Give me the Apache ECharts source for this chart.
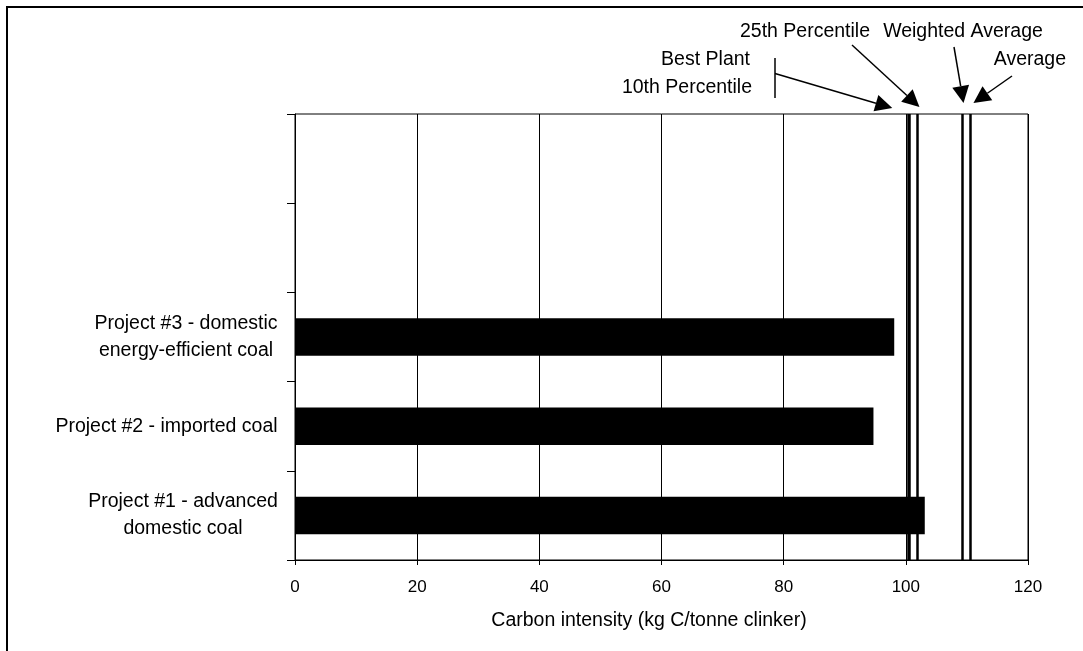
<!DOCTYPE html>
<html>
<head>
<meta charset="utf-8">
<script src="https://cdn.jsdelivr.net/npm/echarts@6/dist/echarts.min.js"></script>
<style>
html,body{margin:0;padding:0;background:#fff;}
#chart{width:1083px;height:651px;}
</style>
</head>
<body>
<div id="chart"></div>
<script>
// ---- data ----
var categories = ['Project #1 - advanced\ndomestic coal', 'Project #2 - imported coal', 'Project #3 - domestic\nenergy-efficient coal', ' ', '  '];
var intensity = [103.1, 94.7, 98.1, null, null];
var refNames = ['Best Plant', '10th Percentile', '25th Percentile', 'Weighted Average', 'Average'];
var refValues = [100.4, 100.6, 101.9, 109.2, 110.5];
var xTicks = [0, 20, 40, 60, 80, 100, 120];
var xTitle = 'Carbon intensity (kg C/tonne clinker)';

var FONT = '"Liberation Sans", Arial, sans-serif';
var LABEL_SIZE = 19.5;

// measure label lines so multi-line labels are centred on each other
var cv = document.createElement('canvas').getContext('2d');
cv.font = LABEL_SIZE + 'px "Liberation Sans"';
var rich = {};
categories.forEach(function (c, i) {
  var w = 0;
  c.split('\n').forEach(function (l) { w = Math.max(w, cv.measureText(l).width); });
  rich['c' + i] = {width: Math.ceil(w), align: 'center', fontSize: LABEL_SIZE, fontFamily: FONT, color: '#000', lineHeight: 26.7};
});

var chart = echarts.init(document.getElementById('chart'), null, {renderer: 'canvas'});

var option = {
  backgroundColor: '#fff',
  animation: false,
  grid: {left: 295, right: 55, top: 114, bottom: 91, show: true, borderColor: '#000', borderWidth: 1, backgroundColor: 'transparent'},
  xAxis: {
    type: 'value', min: xTicks[0], max: xTicks[xTicks.length - 1], interval: 20,
    axisLine: {show: true, lineStyle: {color: '#000', width: 1}},
    axisTick: {show: true, length: 5, lineStyle: {color: '#000'}},
    axisLabel: {color: '#000', fontSize: 17, fontFamily: FONT, margin: 19},
    splitLine: {show: true, lineStyle: {color: '#000', width: 1}},
    name: xTitle, nameLocation: 'middle', nameGap: 51,
    nameTextStyle: {color: '#000', fontSize: LABEL_SIZE, fontFamily: FONT, padding: [0, 25, 0, 0]}
  },
  yAxis: {
    type: 'category', data: categories,
    axisLine: {show: true, lineStyle: {color: '#000', width: 1}},
    axisTick: {show: true, length: 8, lineStyle: {color: '#000'}},
    axisLabel: {
      margin: 17, align: 'right', rich: rich,
      formatter: function (v, idx) {
        if (!v.trim()) return '';
        return v.split('\n').map(function (l) { return '{c' + idx + '|' + l + '}'; }).join('\n');
      }
    },
    splitLine: {show: false}
  },
  series: [{
    type: 'bar', data: intensity, barWidth: '42%',
    itemStyle: {color: '#000'},
    silent: true,
    markLine: {
      silent: true, symbol: 'none', animation: false,
      label: {show: false},
      lineStyle: {color: '#000', width: 2.5, type: 'solid'},
      emphasis: {disabled: true},
      data: refValues.map(function (v) { return {xAxis: v}; })
    }
  }]
};
chart.setOption(option);

// ---- annotations ----
function px(v) { return chart.convertToPixel({xAxisIndex: 0}, v); }
function arrow(x1, y1, x2, y2) {
  var dx = x2 - x1, dy = y2 - y1, len = Math.sqrt(dx * dx + dy * dy);
  var ux = dx / len, uy = dy / len, L = 17, W = 8.5;
  var bx = x2 - ux * L, by = y2 - uy * L, nx = -uy, ny = ux;
  return [
    {type: 'line', shape: {x1: x1, y1: y1, x2: bx, y2: by}, style: {stroke: '#000', lineWidth: 1.5}, silent: true},
    {type: 'polygon', shape: {points: [[x2, y2], [bx + nx * W, by + ny * W], [bx - nx * W, by - ny * W]]}, style: {fill: '#000'}, silent: true}
  ];
}
function txt(s, x, y, align) {
  return {type: 'text', x: x, y: y, silent: true,
    style: {text: s, fill: '#000', font: LABEL_SIZE + 'px ' + FONT, textAlign: align, textVerticalAlign: 'middle'}};
}
var g = [];
g.push({type: 'rect', shape: {x: 7, y: 7, width: 1300, height: 900}, style: {fill: 'none', stroke: '#000', lineWidth: 2}, silent: true});
g.push(txt(refNames[2], 805, 31.5, 'center'));
g.push(txt(refNames[3], 963, 31.5, 'center'));
g.push(txt(refNames[0], 750, 60, 'right'));
g.push(txt(refNames[1], 752, 88, 'right'));
g.push(txt(refNames[4], 1066, 60, 'right'));
// bracket for Best Plant / 10th Percentile
g.push({type: 'line', shape: {x1: 775, y1: 58, x2: 775, y2: 98}, style: {stroke: '#000', lineWidth: 1.5}, silent: true});
var tipY = 114 - 7;
g = g.concat(arrow(775, 73.5, px(refValues[0]) - 16, 108));
g = g.concat(arrow(852, 45, px(refValues[2]) + 2, tipY));
g = g.concat(arrow(954, 47, px(refValues[3]) + 1.5, 103));
g = g.concat(arrow(1012, 76, px(refValues[4]) + 3.5, 103));
chart.setOption({graphic: g});
</script>
</body>
</html>
